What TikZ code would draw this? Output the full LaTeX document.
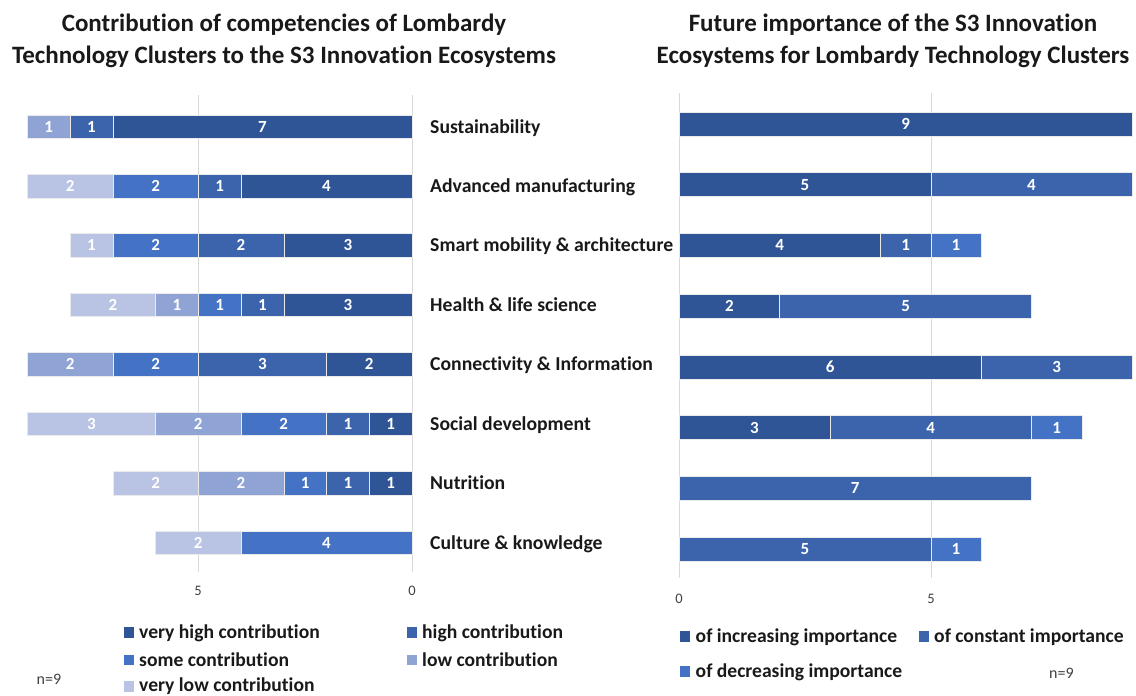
\documentclass[tikz,border=0pt]{standalone}
\usepackage{fontspec}
\setmainfont{Carlito}[Ligatures={NoCommon,NoRare,NoContextual},RawFeature={-liga;-clig;-calt;-dlig;-rlig}]
\definecolor{vhC}{HTML}{2F5597}
\definecolor{hC}{HTML}{3B64AD}
\definecolor{sC}{HTML}{4472C4}
\definecolor{lC}{HTML}{8FA4D4}
\definecolor{vlC}{HTML}{B9C3E3}
\definecolor{gridC}{HTML}{D9D9D9}
\definecolor{tickC}{HTML}{404040}
\newcommand\LSeg[5]{%
  \filldraw[fill=#4,segline] ({412-42.74*(#2)},{-(#1)-11.75}) rectangle ({412-42.74*(#2+#3)},{-(#1)+11.75});
  \node[val] at ({412-42.74*(#2+#3/2)},{-(#1)}) {#5};}
\newcommand\RSeg[5]{%
  \filldraw[fill=#4,segline] ({679+50.35*(#2)},{-(#1)-12}) rectangle ({679+50.35*(#2+#3)},{-(#1)+12});
  \node[val] at ({679+50.35*(#2+#3/2)},{-(#1)}) {#5};}
\begin{document}
\begin{tikzpicture}[x=1pt,y=1pt,
  segline/.style={draw=white!45!gray!30,line width=0.5pt},
  val/.style={text=white,font=\bfseries\fontsize{17}{18}\selectfont,inner sep=0pt},
  ttl/.style={font=\bfseries\fontsize{25}{27}\selectfont,text=black!90,anchor=base,inner sep=0pt},
  cat/.style={font=\bfseries\fontsize{19.7}{21}\selectfont,text=black!90,anchor=base west,inner sep=0pt},
  leg/.style={font=\bfseries\fontsize{19.6}{21}\selectfont,text=black!90,anchor=base west,inner sep=0pt},
  tick/.style={font=\fontsize{14.5}{15}\selectfont,text=tickC,inner sep=0pt},
  nlab/.style={font=\fontsize{16}{17}\selectfont,text=tickC,inner sep=0pt,anchor=west},
  grid/.style={draw=gridC,line width=1pt}]
\useasboundingbox (0,0) rectangle (1136,-696);
% titles
\node[ttl] (t1a) at (284,-31) {Contribution of competencies of Lombardy};
\node[ttl] (t1b) at (284,-63.5) {Technology Clusters to the S3 Innovation Ecosystems};
\node[ttl] (t2a) at (893,-31) {Future importance of the S3 Innovation};
\node[ttl] (t2b) at (893,-63.5) {Ecosystems for Lombardy Technology Clusters};
% grid
\draw[grid] (198,-95) -- (198,-572);
\draw[grid] (412,-95) -- (412,-572);
\draw[grid] (679,-93) -- (679,-578);
\draw[grid] (931,-93) -- (931,-578);
\node[tick] (l5) at (198,-591) {5};
\node[tick] (l0) at (412,-591) {0};
\node[tick] (r0) at (679,-599) {0};
\node[tick] (r5) at (931,-599) {5};
% left bars (from right: very high, high, some, low, very low)
\LSeg{126.5}{0}{7}{vhC}{7}\LSeg{126.5}{7}{1}{hC}{1}\LSeg{126.5}{8}{1}{lC}{1}
\LSeg{186}{0}{4}{vhC}{4}\LSeg{186}{4}{1}{hC}{1}\LSeg{186}{5}{2}{sC}{2}\LSeg{186}{7}{2}{vlC}{2}
\LSeg{245.4}{0}{3}{vhC}{3}\LSeg{245.4}{3}{2}{hC}{2}\LSeg{245.4}{5}{2}{sC}{2}\LSeg{245.4}{7}{1}{vlC}{1}
\LSeg{304.9}{0}{3}{vhC}{3}\LSeg{304.9}{3}{1}{hC}{1}\LSeg{304.9}{4}{1}{sC}{1}\LSeg{304.9}{5}{1}{lC}{1}\LSeg{304.9}{6}{2}{vlC}{2}
\LSeg{364.4}{0}{2}{vhC}{2}\LSeg{364.4}{2}{3}{hC}{3}\LSeg{364.4}{5}{2}{sC}{2}\LSeg{364.4}{7}{2}{lC}{2}
\LSeg{423.8}{0}{1}{vhC}{1}\LSeg{423.8}{1}{1}{hC}{1}\LSeg{423.8}{2}{2}{sC}{2}\LSeg{423.8}{4}{2}{lC}{2}\LSeg{423.8}{6}{3}{vlC}{3}
\LSeg{483.3}{0}{1}{vhC}{1}\LSeg{483.3}{1}{1}{hC}{1}\LSeg{483.3}{2}{1}{sC}{1}\LSeg{483.3}{3}{2}{lC}{2}\LSeg{483.3}{5}{2}{vlC}{2}
\LSeg{542.7}{0}{4}{sC}{4}\LSeg{542.7}{4}{2}{vlC}{2}
% categories
\node[cat] (c1) at (430,-126.5-6.5) {Sustainability};
\node[cat] (c2) at (430,-186-6.5) {Advanced manufacturing};
\node[cat] (c3) at (430,-245.4-6.5) {Smart mobility \& architecture};
\node[cat] (c4) at (430,-304.9-6.5) {Health \& life science};
\node[cat] (c5) at (430,-364.4-6.5) {Connectivity \& Information};
\node[cat] (c6) at (430,-423.8-6.5) {Social development};
\node[cat] (c7) at (430,-483.3-6.5) {Nutrition};
\node[cat] (c8) at (430,-542.7-6.5) {Culture \& knowledge};
% right bars (increasing, constant, decreasing)
\RSeg{124}{0}{9}{vhC}{9}
\RSeg{184.7}{0}{5}{vhC}{5}\RSeg{184.7}{5}{4}{hC}{4}
\RSeg{245.4}{0}{4}{vhC}{4}\RSeg{245.4}{4}{1}{hC}{1}\RSeg{245.4}{5}{1}{sC}{1}
\RSeg{306.1}{0}{2}{vhC}{2}\RSeg{306.1}{2}{5}{hC}{5}
\RSeg{366.8}{0}{6}{vhC}{6}\RSeg{366.8}{6}{3}{hC}{3}
\RSeg{427.5}{0}{3}{vhC}{3}\RSeg{427.5}{3}{4}{hC}{4}\RSeg{427.5}{7}{1}{sC}{1}
\RSeg{488.2}{0}{7}{hC}{7}
\RSeg{549}{0}{5}{hC}{5}\RSeg{549}{5}{1}{sC}{1}
% left legend
\fill[vhC] (123.5,-627) rectangle (134,-637.5);
\node[leg] (lg1) at (139,-638.5) {very high contribution};
\fill[sC] (123.5,-654.5) rectangle (134,-665);
\node[leg] (lg2) at (139,-666) {some contribution};
\fill[vlC] (123.5,-681) rectangle (134,-691.5);
\node[leg] (lg3) at (139,-691.5) {very low contribution};
\fill[hC] (406.5,-627) rectangle (417,-637.5);
\node[leg] (lg4) at (422,-638.5) {high contribution};
\fill[lC] (406.5,-654.5) rectangle (417,-665);
\node[leg] (lg5) at (422,-666) {low contribution};
\node[nlab] (n1) at (36.5,-679) {n=9};
% right legend
\fill[vhC] (679.5,-631) rectangle (690,-641.5);
\node[leg] (rg1) at (695.5,-642.5) {of increasing importance};
\fill[hC] (918.5,-631) rectangle (929,-641.5);
\node[leg] (rg2) at (934,-642.5) {of constant importance};
\fill[sC] (679.5,-666) rectangle (690,-676.5);
\node[leg] (rg3) at (695.5,-677.5) {of decreasing importance};
\node[nlab] (n2) at (1049,-673.5) {n=9};
\end{tikzpicture}
\end{document}
